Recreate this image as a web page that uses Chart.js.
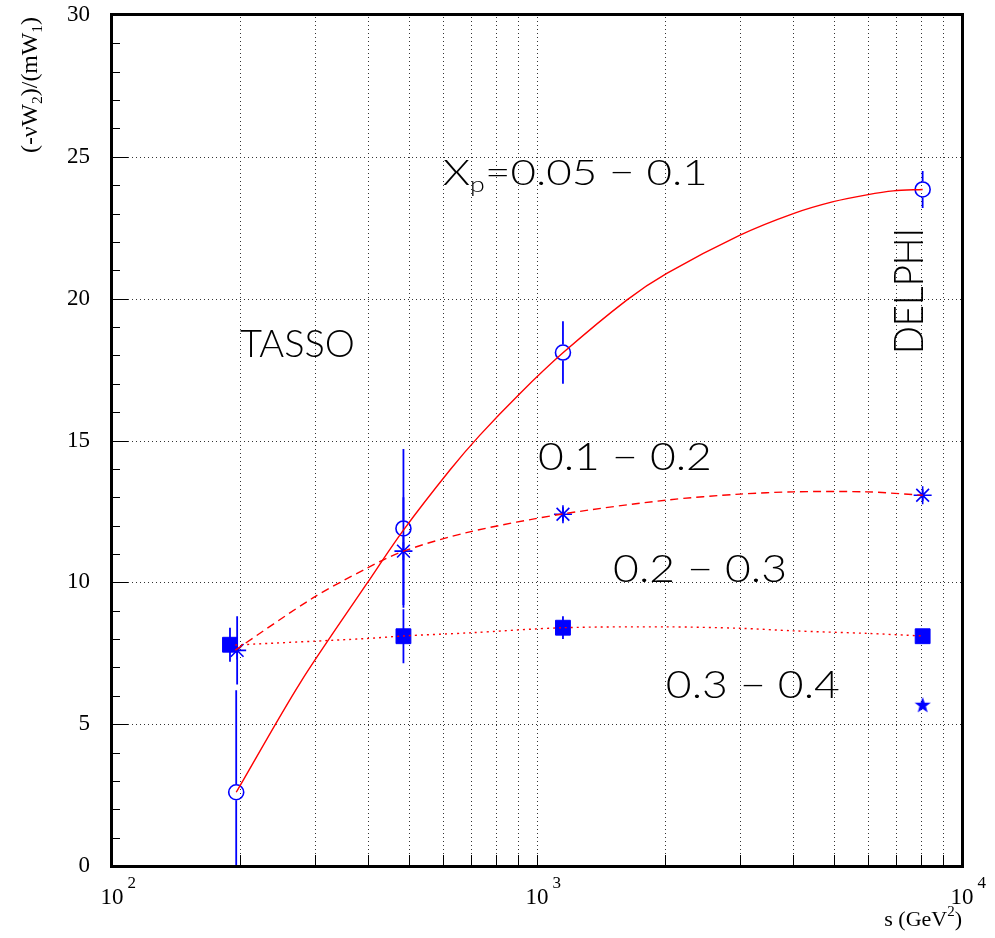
<!DOCTYPE html>
<html>
<head>
<meta charset="utf-8">
<script src="https://cdn.jsdelivr.net/npm/chart.js@4.4.0/dist/chart.umd.min.js"></script>
<style>
  body { margin: 0; background: #fff; }
</style>
</head>
<body>
<canvas id="chart" width="995" height="938"></canvas>
<script>
// measured points, s in GeV^2
// x_p = 0.05 - 0.1 (open circles)
const circS = [196, 485, 1151, 8080];
const circY = [2.6, 11.9, 18.1, 23.85];
const circErr = [3.6, 2.8, 1.1, 0.65];

// x_p = 0.1 - 0.2 (asterisks)
const astS = [197, 485, 1151, 8080];
const astY = [7.6, 11.1, 12.4, 13.07];
const astErr = [1.2, 1.9, 0.25, 0.2];

// x_p = 0.2 - 0.3 (full squares)
const sqS = [189.5, 485, 1151, 8080];
const sqY = [7.8, 8.1, 8.4, 8.1];
const sqErr = [0.6, 0.95, 0.4, 0.2];

// x_p = 0.3 - 0.4 (star, DELPHI only)
const starS = [8080];
const starY = [5.68];

// fitted curves
const fitSolidS = [196, 277, 398, 485, 624, 734, 912, 1151, 1626, 2020, 3004, 4009, 4980, 5970, 6893, 8080];
const fitSolidY = [2.6, 6.45, 9.96, 11.84, 13.96, 15.19, 16.66, 18.09, 19.95, 20.89, 22.24, 23.0, 23.42, 23.66, 23.8, 23.85];
const fitDashS = [195, 297, 398, 485, 695, 1151, 2020, 3004, 4009, 5970, 8080];
const fitDashY = [7.61, 9.45, 10.5, 11.1, 11.78, 12.41, 12.9, 13.11, 13.19, 13.19, 13.07];
const fitDotS = [195, 398, 485, 695, 1151, 2020, 3004, 4009, 5970, 8080];
const fitDotY = [7.79, 8.02, 8.11, 8.22, 8.4, 8.43, 8.38, 8.29, 8.2, 8.11];

// axes
const xGrid = [200, 300, 400, 500, 600, 700, 800, 900, 1000, 2000, 3000, 4000, 5000, 6000, 7000, 8000, 9000];
const xDecades = [100, 1000, 10000];
const xExp = ['2', '3', '4'];
const yMajor = [0, 5, 10, 15, 20, 25, 30];
const yMinor = [1, 2, 3, 4, 6, 7, 8, 9, 11, 12, 13, 14, 16, 17, 18, 19, 21, 22, 23, 24, 26, 27, 28, 29];

// text labels inside the plot
const labelText = ['TASSO', '0.1 \u2212 0.2', '0.2 \u2212 0.3', '0.3 \u2212 0.4'];
const labelS = [200, 1005, 1510, 2010];
const labelY = [17.94, 13.96, 10.0, 5.92];
const labelW = [115, 174, 174, 174];

const BLUE = '#0000ff';
const RED = '#ff0000';
const SANS = 'Lato, "Open Sans", "Liberation Sans", sans-serif';
const SERIF = '"Liberation Serif", "Times New Roman", serif';

function pts(xs, ys) {
    return xs.map((x, i) => ({ x: x, y: ys[i] }));
}

// filled five-pointed star marker
const starImg = document.createElement('canvas');
starImg.width = 18; starImg.height = 18;
(function () {
    const c = starImg.getContext('2d');
    c.fillStyle = BLUE;
    c.beginPath();
    for (let i = 0; i < 10; i++) {
        const r = i % 2 === 0 ? 8.5 : 3.4;
        const a = -Math.PI / 2 + i * Math.PI / 5;
        const px = 9 + r * Math.cos(a), py = 9.5 + r * Math.sin(a);
        if (i === 0) c.moveTo(px, py); else c.lineTo(px, py);
    }
    c.closePath();
    c.fill();
})();

// draw text pieces stretched to a given width
function fitText(ctx, parts, width) {
    let natural = 0;
    parts.forEach(p => { ctx.font = p.font; natural += ctx.measureText(p.t).width; });
    const k = width / natural;
    ctx.save();
    ctx.scale(k, 1);
    let cx = 0;
    parts.forEach(p => {
        ctx.font = p.font;
        ctx.fillText(p.t, cx, p.dy || 0);
        cx += ctx.measureText(p.t).width;
    });
    ctx.restore();
}

const errorSets = [
    { s: circS, y: circY, e: circErr, r: 8 },
    { s: astS, y: astY, e: astErr, r: 0 },
    { s: sqS, y: sqY, e: sqErr, r: 0 }
];

const framePlugin = {
    id: 'frame',
    beforeDatasetsDraw(chart) {
        const ctx = chart.ctx;
        const a = chart.chartArea;
        const xs = chart.scales.x, ys = chart.scales.y;
        ctx.save();
        // dotted grid
        ctx.strokeStyle = '#333';
        ctx.lineWidth = 1;
        ctx.setLineDash([1, 3]);
        xGrid.forEach(v => {
            const px = Math.round(xs.getPixelForValue(v)) + 0.5;
            ctx.beginPath(); ctx.moveTo(px, a.bottom); ctx.lineTo(px, a.top); ctx.stroke();
        });
        yMajor.slice(1, -1).forEach(v => {
            const py = Math.round(ys.getPixelForValue(v)) + 0.5;
            ctx.beginPath(); ctx.moveTo(a.left, py); ctx.lineTo(a.right, py); ctx.stroke();
        });
        ctx.setLineDash([]);
        // ticks
        ctx.strokeStyle = '#000';
        yMajor.forEach(v => {
            const py = Math.round(ys.getPixelForValue(v)) + 0.5;
            ctx.beginPath(); ctx.moveTo(a.left, py); ctx.lineTo(a.left + 16, py); ctx.stroke();
        });
        yMinor.forEach(v => {
            const py = Math.round(ys.getPixelForValue(v)) + 0.5;
            ctx.beginPath(); ctx.moveTo(a.left, py); ctx.lineTo(a.left + 8, py); ctx.stroke();
        });
        xGrid.forEach(v => {
            const px = Math.round(xs.getPixelForValue(v)) + 0.5;
            ctx.beginPath(); ctx.moveTo(px, a.bottom); ctx.lineTo(px, a.bottom - 11); ctx.stroke();
        });
        // error bars
        ctx.beginPath();
        ctx.rect(a.left, a.top, a.right - a.left, a.bottom - a.top);
        ctx.clip();
        ctx.strokeStyle = BLUE;
        ctx.lineWidth = 1.8;
        errorSets.forEach(set => {
            set.s.forEach((s, i) => {
                const px = xs.getPixelForValue(s);
                const pc = ys.getPixelForValue(set.y[i]);
                const ph = ys.getPixelForValue(set.y[i] + set.e[i]);
                const pl = ys.getPixelForValue(set.y[i] - set.e[i]);
                ctx.beginPath();
                ctx.moveTo(px, ph); ctx.lineTo(px, pc - set.r);
                ctx.moveTo(px, pc + set.r); ctx.lineTo(px, pl);
                ctx.stroke();
            });
        });
        ctx.restore();
    },
    afterDraw(chart) {
        const ctx = chart.ctx;
        const a = chart.chartArea;
        const xs = chart.scales.x, ys = chart.scales.y;
        ctx.save();
        // frame
        ctx.strokeStyle = '#000';
        ctx.lineWidth = 3;
        ctx.strokeRect(a.left - 0.5, a.top - 0.5, a.right - a.left + 1, a.bottom - a.top + 1);

        // y tick labels
        ctx.fillStyle = '#000';
        ctx.font = '23px ' + SERIF;
        ctx.textAlign = 'right';
        ctx.textBaseline = 'middle';
        yMajor.forEach(v => ctx.fillText(String(v), 90, ys.getPixelForValue(v)));

        // x tick labels 10^n
        ctx.textBaseline = 'alphabetic';
        xDecades.forEach((v, i) => {
            const px = xs.getPixelForValue(v);
            ctx.font = '23px ' + SERIF;
            ctx.textAlign = 'center';
            ctx.fillText('10', px, 904);
            const w = ctx.measureText('10').width;
            ctx.font = '17px ' + SERIF;
            ctx.textAlign = 'left';
            ctx.fillText(xExp[i], px + w / 2 + 4, 888);
        });

        // x title
        ctx.textAlign = 'left';
        ctx.font = '22px ' + SERIF;
        const t1 = 's (GeV', t2 = '2', t3 = ')';
        const w1 = ctx.measureText(t1).width, w3 = ctx.measureText(t3).width;
        ctx.font = '15px ' + SERIF;
        const w2 = ctx.measureText(t2).width;
        let x0 = a.right - (w1 + w2 + w3);
        ctx.font = '22px ' + SERIF;
        ctx.fillText(t1, x0, 926);
        ctx.font = '15px ' + SERIF;
        ctx.fillText(t2, x0 + w1, 916);
        ctx.font = '22px ' + SERIF;
        ctx.fillText(t3, x0 + w1 + w2, 926);

        // y title, rotated
        ctx.save();
        ctx.translate(37, 153);
        ctx.rotate(-Math.PI / 2);
        const big = '23px ' + SERIF, small = '15px ' + SERIF;
        fitText(ctx, [
            { t: '(-\u03BDW', font: big },
            { t: '2', font: small, dy: 5 },
            { t: ')/(mW', font: big },
            { t: '1', font: small, dy: 5 },
            { t: ')', font: big }
        ], 136);
        ctx.restore();

        // labels in the plot
        ctx.fillStyle = '#000';
        labelText.forEach((t, i) => {
            ctx.save();
            ctx.translate(xs.getPixelForValue(labelS[i]), ys.getPixelForValue(labelY[i]));
            fitText(ctx, [{ t: t, font: '300 37px ' + SANS }], labelW[i]);
            ctx.restore();
        });
        ctx.save();
        ctx.translate(xs.getPixelForValue(600), ys.getPixelForValue(24.0));
        fitText(ctx, [
            { t: 'X', font: '300 36px ' + SANS },
            { t: 'p', font: '300 22px ' + SANS, dy: 7 },
            { t: '=0.05 \u2212 0.1', font: '300 36px ' + SANS }
        ], 265);
        ctx.restore();
        ctx.save();
        ctx.translate(xs.getPixelForValue(8090), ys.getPixelForValue(18.05));
        ctx.rotate(-Math.PI / 2);
        fitText(ctx, [{ t: 'DELPHI', font: '300 41px ' + SANS }], 126);
        ctx.restore();

        ctx.restore();
    }
};

const ctx = document.getElementById('chart').getContext('2d');
new Chart(ctx, {
    type: 'scatter',
    data: {
        datasets: [
            {
                type: 'line', data: pts(fitSolidS, fitSolidY), borderColor: RED, borderWidth: 1.4,
                pointRadius: 0, tension: 0.3, order: 0
            },
            {
                type: 'line', data: pts(fitDashS, fitDashY), borderColor: RED, borderWidth: 1.4,
                borderDash: [8, 5], pointRadius: 0, tension: 0.3, order: 0
            },
            {
                type: 'line', data: pts(fitDotS, fitDotY), borderColor: RED, borderWidth: 1.4,
                borderDash: [2, 4], pointRadius: 0, tension: 0.3, order: 0
            },
            {
                data: pts(circS, circY), pointStyle: 'circle', pointRadius: 7.5,
                borderColor: BLUE, backgroundColor: 'rgba(0,0,0,0)', borderWidth: 1.6, order: 1
            },
            {
                data: pts(astS, astY), pointStyle: 'star', pointRadius: 9,
                borderColor: BLUE, backgroundColor: BLUE, borderWidth: 1.6, order: 1
            },
            {
                data: pts(sqS, sqY), pointStyle: 'rect', pointRadius: 10.5,
                borderColor: BLUE, backgroundColor: BLUE, borderWidth: 1, order: 1
            },
            {
                data: pts(starS, starY), pointStyle: starImg, order: 1
            }
        ]
    },
    options: {
        responsive: false,
        animation: false,
        layout: { padding: { left: 112, right: 33, top: 15, bottom: 72 } },
        plugins: { legend: { display: false }, tooltip: { enabled: false } },
        scales: {
            x: { type: 'logarithmic', min: 100, max: 10000, display: false },
            y: { type: 'linear', min: 0, max: 30, display: false }
        }
    },
    plugins: [framePlugin]
});
</script>
</body>
</html>
